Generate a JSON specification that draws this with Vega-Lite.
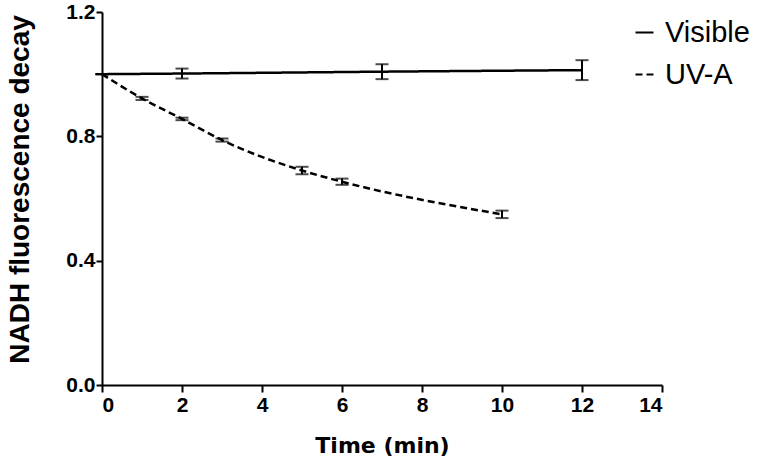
{
  "$schema": "https://vega.github.io/schema/vega-lite/v6.json",
  "width": 560,
  "height": 373,
  "autosize": "none",
  "padding": {"left": 102, "top": 12, "right": 98, "bottom": 77},
  "background": "white",
  "config": {
    "view": {"stroke": null},
    "axis": {
      "grid": false,
      "domainColor": "black",
      "domainWidth": 2,
      "tickColor": "black",
      "tickWidth": 2,
      "tickSize": 7,
      "labelFont": "Liberation Sans",
      "labelFontWeight": "bold",
      "labelColor": "black",
      "labelFontSize": 21,
      "titleColor": "black",
      "titleFontWeight": "bold"
    }
  },
  "data": {
    "values": [
      {"series": "Visible", "t": 0, "y": 1.0, "lo": 1.0, "hi": 1.0},
      {"series": "Visible", "t": 2, "y": 1.002, "lo": 0.986, "hi": 1.018},
      {"series": "Visible", "t": 7, "y": 1.008, "lo": 0.984, "hi": 1.032},
      {"series": "Visible", "t": 12, "y": 1.013, "lo": 0.981, "hi": 1.045},
      {"series": "UV-A", "t": 0, "y": 1.0, "lo": 1.0, "hi": 1.0},
      {"series": "UV-A", "t": 1, "y": 0.922, "lo": 0.917, "hi": 0.927},
      {"series": "UV-A", "t": 2, "y": 0.856, "lo": 0.852, "hi": 0.86},
      {"series": "UV-A", "t": 3, "y": 0.788, "lo": 0.783, "hi": 0.793},
      {"series": "UV-A", "t": 5, "y": 0.69, "lo": 0.678, "hi": 0.702},
      {"series": "UV-A", "t": 6, "y": 0.654, "lo": 0.644, "hi": 0.664},
      {"series": "UV-A", "t": 10, "y": 0.549, "lo": 0.537, "hi": 0.561}
    ]
  },
  "layer": [
    {
      "mark": {"type": "line", "color": "black", "strokeWidth": 2.5, "interpolate": "monotone"},
      "encoding": {
        "x": {
          "field": "t", "type": "quantitative",
          "scale": {"domain": [0, 14], "nice": false},
          "axis": {"values": [0, 2, 4, 6, 8, 10, 12, 14], "title": "Time (min)", "labelPadding": 2,
                   "titleFont": "DejaVu Sans", "titleFontSize": 22, "titleBaseline": "alphabetic", "titleY": 67}
        },
        "y": {
          "field": "y", "type": "quantitative",
          "scale": {"domain": [0, 1.2], "nice": false, "zero": true},
          "axis": {"values": [0, 0.4, 0.8, 1.2], "format": ".1f", "title": "NADH fluorescence decay", "labelPadding": 1, "tickSize": 6,
                   "titleFont": "Liberation Sans", "titleFontSize": 28, "titleBaseline": "alphabetic", "titleX": -74, "titleY": 177}
        },
        "detail": {"field": "series"},
        "strokeDash": {
          "field": "series", "type": "nominal",
          "scale": {"domain": ["Visible", "UV-A"], "range": [[1, 0], [7, 4]]},
          "legend": {
            "title": null,
            "orient": "none",
            "legendX": 528,
            "legendY": 6,
            "symbolType": "stroke",
            "symbolSize": 324,
            "symbolStrokeColor": "black",
            "symbolStrokeWidth": 2,
            "labelFont": "Liberation Sans",
            "labelFontSize": 29,
            "labelColor": "black",
            "labelOffset": 6,
            "rowPadding": 12
          }
        }
      }
    },
    {
      "mark": {"type": "rule", "color": "black", "strokeWidth": 2},
      "encoding": {
        "x": {"field": "t", "type": "quantitative"},
        "y": {"field": "lo", "type": "quantitative"},
        "y2": {"field": "hi"}
      }
    },
    {
      "mark": {"type": "tick", "color": "black", "orient": "horizontal", "size": 13, "thickness": 2},
      "encoding": {
        "x": {"field": "t", "type": "quantitative"},
        "y": {"field": "lo", "type": "quantitative"}
      }
    },
    {
      "mark": {"type": "tick", "color": "black", "orient": "horizontal", "size": 13, "thickness": 2},
      "encoding": {
        "x": {"field": "t", "type": "quantitative"},
        "y": {"field": "hi", "type": "quantitative"}
      }
    }
  ]
}
